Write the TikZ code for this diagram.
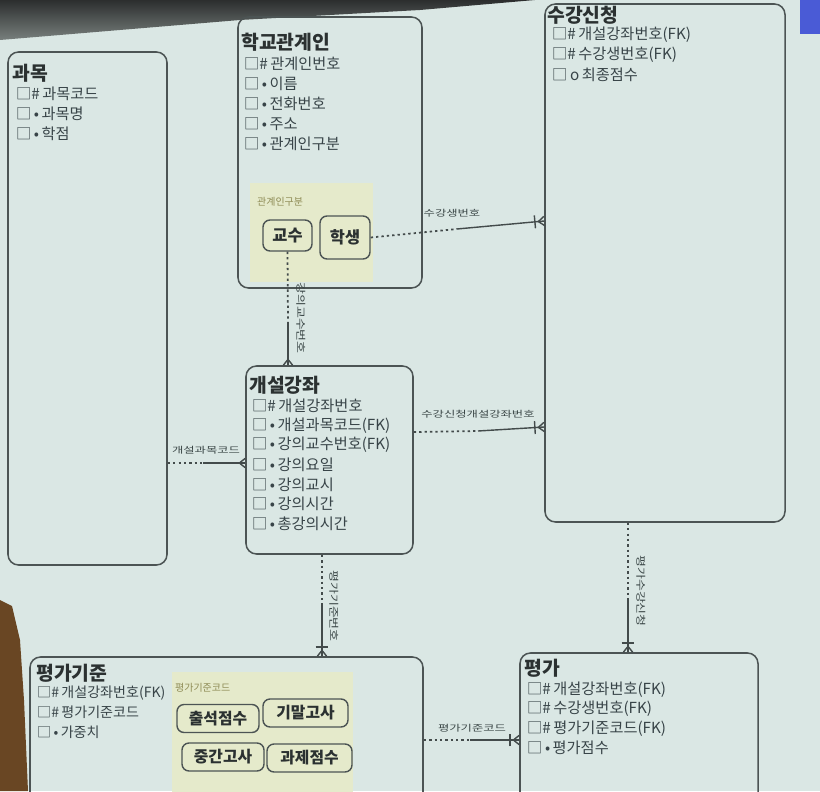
\documentclass[tikz,border=0pt]{standalone}
\usepackage{fontspec}
\setmainfont{Noto Sans CJK KR}
\usetikzlibrary{fit,calc}
\definecolor{bg}{HTML}{DAE7E4}
\definecolor{edge}{HTML}{4C5454}
\definecolor{ttl}{HTML}{2B3131}
\definecolor{att}{HTML}{384448}
\definecolor{sub}{HTML}{E5EACB}
\definecolor{subtxt}{HTML}{8E8B55}
\definecolor{lbl}{HTML}{3A4646}
\definecolor{conc}{HTML}{434B4B}
\definecolor{scrblue}{HTML}{4A5BD6}
\newcommand\ttlfont{\fontsize{16.5}{17}\selectfont\bfseries}
\newcommand\attfont{\fontsize{13}{14}\selectfont}
\newcommand\mysubfont{\fontsize{14}{15}\selectfont\bfseries}
\newcommand\mysubsmall{\fontsize{13.5}{14}\selectfont\bfseries}
\newcommand\relfont{\fontsize{7.5}{8}\selectfont}
\newcommand\vrelfont{\fontsize{8.5}{9}\selectfont}
\newcommand\areafont{\fontsize{8.5}{9}\selectfont}
\newcommand\crowfoot[2]{%
  \draw[solidline] ($(#1)!5pt!(#2)$) -- ($(#1)!4pt!90:(#2)$);
  \draw[solidline] ($(#1)!5pt!(#2)$) -- ($(#1)!4pt!-90:(#2)$);}
\newcommand\crowbar[2]{%
  \draw[solidline] ($(#1)!8pt!(#2)!5.5pt!90:(#2)$) -- ($(#1)!8pt!(#2)!5.5pt!-90:(#2)$);}
\begin{document}
\begin{tikzpicture}[x=0.03cm,y=-0.03cm,
  entity/.style={draw=edge, line width=1.3pt, rounded corners=9pt, inner sep=0pt},
  subarea/.style={fill=sub, inner sep=0pt},
  subbox/.style={draw=edge, line width=1.2pt, rounded corners=6pt, inner sep=0pt, text=ttl},
  ttlnode/.style={anchor=west, inner sep=0pt, font=\ttlfont, text=ttl},
  att/.style={anchor=west, inner sep=0pt, font=\attfont, text=att},
  arealbl/.style={anchor=west, inner sep=0pt, font=\areafont, text=subtxt},
  rel/.style={inner sep=0pt, font=\relfont, text=lbl},
  vrel/.style={inner sep=0pt, font=\vrelfont, text=lbl, rotate=-90},
  dotline/.style={draw=conc, line width=1.5pt, dash pattern=on 2pt off 2.6pt},
  solidline/.style={draw=conc, line width=1.2pt}]
\useasboundingbox (0,0) rectangle (820,791);
\clip (0,0) rectangle (820,791);
\fill[bg] (0,0) rectangle (820,791);
% photo edges
\shade[top color=black!80!bg, bottom color=black!45!bg] (0,0) -- (535,0) -- (420,10) -- (240,20) -- (0,40) -- cycle;
\fill[brown!55!black] (0,600) -- (12,606) -- (20,640) -- (24,700) -- (28,791) -- (0,791) -- cycle;
\fill[scrblue] (800,0) rectangle (820,34);

% subtype areas
\node[subarea, fit={(250,183)(373,282)}] (gubunarea) {};
\node[subarea, fit={(172,672)(353,800)}] (kijunarea) {};

% entities
\node[entity, fit={(8,52)(167,565)}] (gwamok) {};
\node[entity, fit={(238,17)(422,288)}] (hakgyo) {};
\node[entity, fit={(545,4)(785,522)}] (sugang) {};
\node[entity, fit={(246,366)(413,554)}] (gaeseol) {};
\node[entity, fit={(30,657)(423,805)}] (pgijun) {};
\node[entity, fit={(520,653)(758,805)}] (pyeongga) {};

% 과목
\node[ttlnode] (gm-t) at (12,73) {과목};
\foreach \txt [count=\i] in {□\#\,과목코드, □\,•\,과목명, □\,•\,학점}
  \node[att] (gm-\i) at (16,74+\i*20) {\txt};

% 학교관계인
\node[ttlnode] (hg-t) at (241,42) {학교관계인};
\foreach \txt [count=\i] in {□\#\,관계인번호, □\,•\,이름, □\,•\,전화번호, □\,•\,주소, □\,•\,관계인구분}
  \node[att] (hg-\i) at (244,44+\i*20) {\txt};
\node[arealbl] (gubunlbl) at (257,202) {관계인구분};
\node[subbox, font=\mysubfont, minimum width=1.47cm, minimum height=0.93cm] (gyosu) at (287.5,235.5) {교수};
\node[subbox, font=\mysubfont, minimum width=1.5cm, minimum height=1.29cm] (haksaeng) at (345,237.5) {학생};

% 수강신청
\node[ttlnode] (sg-t) at (547,15) {수강신청};
\foreach \txt [count=\i] in {□\#\,개설강좌번호(FK), □\#\,수강생번호(FK), □\,o\,최종점수}
  \node[att] (sg-\i) at (552,15+\i*20) {\txt};

% 개설강좌
\node[ttlnode] (gs-t) at (249,385) {개설강좌};
\foreach \txt [count=\i] in {□\#\,개설강좌번호, □\,•\,개설과목코드(FK), □\,•\,강의교수번호(FK), □\,•\,강의요일, □\,•\,강의교시, □\,•\,강의시간, □\,•\,총강의시간}
  \node[att] (gs-\i) at (252,386+\i*19.7) {\txt};

% 평가기준
\node[ttlnode] (pj-t) at (36,673) {평가기준};
\foreach \txt [count=\i] in {□\#\,개설강좌번호(FK), □\#\,평가기준코드, □\,•\,가중치}
  \node[att, font=\fontsize{12}{13}\selectfont] (pj-\i) at (37,673+\i*19.7) {\txt};
\node[arealbl] (kijunlbl) at (175,688) {평가기준코드};
\node[subbox, font=\mysubsmall, minimum width=2.46cm, minimum height=0.84cm] (chulseok) at (218,718.5) {출석점수};
\node[subbox, font=\mysubsmall, minimum width=2.55cm, minimum height=0.84cm] (gimal) at (305.5,713) {기말고사};
\node[subbox, font=\mysubsmall, minimum width=2.46cm, minimum height=0.84cm] (junggan) at (223,757) {중간고사};
\node[subbox, font=\mysubsmall, minimum width=2.55cm, minimum height=0.84cm] (gwaje) at (309.5,758) {과제점수};

% 평가
\node[ttlnode] (pg-t) at (524,668) {평가};
\foreach \txt [count=\i] in {□\#\,개설강좌번호(FK), □\#\,수강생번호(FK), □\#\,평가기준코드(FK), □\,•\,평가점수}
  \node[att] (pg-\i) at (527,670+\i*19.5) {\txt};

% connectors
% 1 학생 -> 수강신청
\coordinate (c1m) at (457,229);
\path (sugang.west |- 0,221) coordinate (c1e);
\draw[dotline] (haksaeng.east) -- (c1m);
\draw[solidline] (c1m) -- (c1e);
\crowbar{c1e}{c1m}\crowfoot{c1e}{c1m}
\node[rel] (l1) at (452,213) {\scalebox{1.4}[1]{수강생번호}};

% 2 교수 -> 개설강좌
\coordinate (c2m) at (288,322);
\path (gaeseol.north -| c2m) coordinate (c2e);
\draw[dotline] (gyosu.south) -- (c2m);
\draw[solidline] (c2m) -- (c2e);
\crowfoot{c2e}{c2m}
\node[vrel] (l2) at (301,318) {\scalebox{1.3}[1]{강의교수번호}};

% 3 과목 -> 개설강좌
\path (gwamok.east |- 0,463) coordinate (c3s);
\coordinate (c3m) at (203,463);
\path (gaeseol.west |- c3m) coordinate (c3e);
\draw[dotline] (c3s) -- (c3m);
\draw[solidline] (c3m) -- (c3e);
\crowfoot{c3e}{c3m}
\node[rel] (l3) at (206,450) {\scalebox{1.4}[1]{개설과목코드}};

% 4 개설강좌 -> 수강신청
\path (gaeseol.east |- 0,432) coordinate (c4s);
\coordinate (c4m) at (478,431);
\path (sugang.west |- 0,427) coordinate (c4e);
\draw[dotline] (c4s) -- (c4m);
\draw[solidline] (c4m) -- (c4e);
\crowbar{c4e}{c4m}\crowfoot{c4e}{c4m}
\node[rel] (l4) at (478,414) {\scalebox{1.4}[1]{수강신청개설강좌번호}};

% 5 개설강좌 -> 평가기준
\path (gaeseol.south -| 322,0) coordinate (c5s);
\coordinate (c5m) at (322,605);
\path (pgijun.north -| c5m) coordinate (c5e);
\draw[dotline] (c5s) -- (c5m);
\draw[solidline] (c5m) -- (c5e);
\crowbar{c5e}{c5m}\crowfoot{c5e}{c5m}
\node[vrel] (l5) at (334,606) {\scalebox{1.3}[1]{평가기준번호}};

% 6 수강신청 -> 평가
\path (sugang.south -| 628,0) coordinate (c6s);
\coordinate (c6m) at (628,600);
\path (pyeongga.north -| c6m) coordinate (c6e);
\draw[dotline] (c6s) -- (c6m);
\draw[solidline] (c6m) -- (c6e);
\crowbar{c6e}{c6m}\crowfoot{c6e}{c6m}
\node[vrel] (l6) at (641,591) {\scalebox{1.3}[1]{평가수강신청}};

% 7 평가기준 -> 평가
\path (pgijun.east |- 0,740) coordinate (c7s);
\coordinate (c7m) at (470,740);
\path (pyeongga.west |- c7m) coordinate (c7e);
\draw[dotline] (c7s) -- (c7m);
\draw[solidline] (c7m) -- (c7e);
\crowbar{c7e}{c7m}\crowfoot{c7e}{c7m}
\node[rel] (l7) at (472,728) {\scalebox{1.4}[1]{평가기준코드}};
\end{tikzpicture}
\end{document}
